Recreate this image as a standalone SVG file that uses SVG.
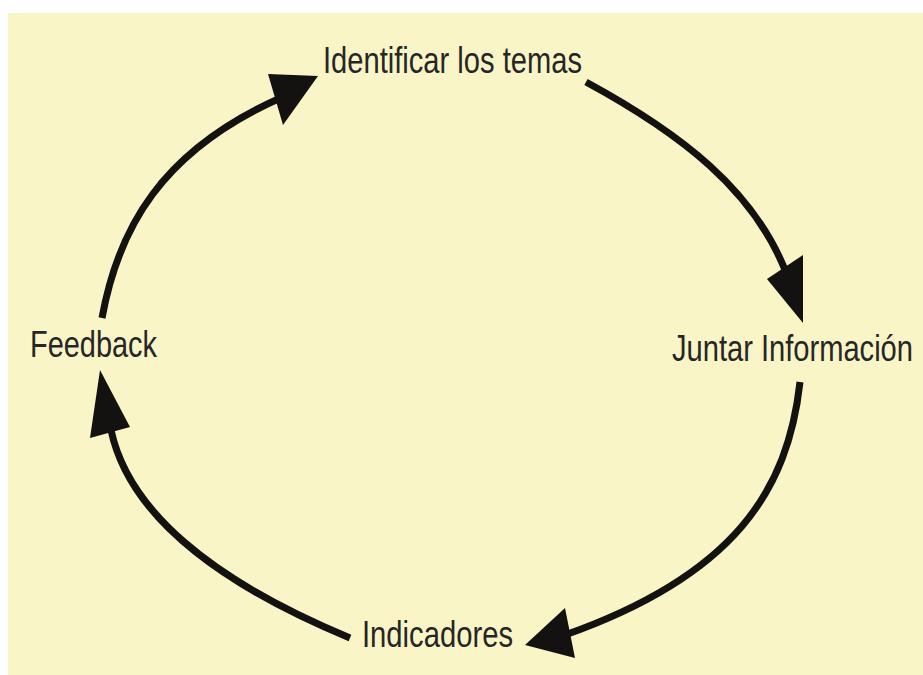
<svg xmlns="http://www.w3.org/2000/svg" width="923" height="675" viewBox="0 0 923 675">
<style>
.lbl{font-family:"Liberation Sans",Arial,sans-serif;font-size:36px;fill:#262626;}
.shaft{fill:none;stroke:#141211;stroke-width:7;}
.head{fill:#141211;}
</style>
<rect x="0" y="0" width="923" height="675" fill="#ffffff"/>
<rect x="8" y="13" width="915" height="662" fill="#FAF5C6"/>
<g id="connectors">
<path class="shaft" d="M102,318 C118,230 160,150 285,96"/>
<polygon class="head" points="318,76 268,74 283,125"/>
<path class="shaft" d="M586,82 C680,133 755,190 787,275"/>
<polygon class="head" points="803,255 767,279 803,323"/>
<path class="shaft" d="M800,382 C788,490 735,575 565,635"/>
<polygon class="head" points="565,608 525,645 575,658"/>
<path class="shaft" d="M350,638 C210,580 128,510 111,430"/>
<polygon class="head" points="100,370 90,438 130,427"/>
</g>
<g id="node-identificar"><text class="lbl" x="323" y="73" textLength="259" lengthAdjust="spacingAndGlyphs">Identificar los temas</text></g>
<g id="node-juntar"><text class="lbl" x="672" y="361" textLength="241" lengthAdjust="spacingAndGlyphs">Juntar Información</text></g>
<g id="node-indicadores"><text class="lbl" x="362" y="647" textLength="151" lengthAdjust="spacingAndGlyphs">Indicadores</text></g>
<g id="node-feedback"><text class="lbl" x="30" y="357" textLength="127" lengthAdjust="spacingAndGlyphs">Feedback</text></g>
</svg>
